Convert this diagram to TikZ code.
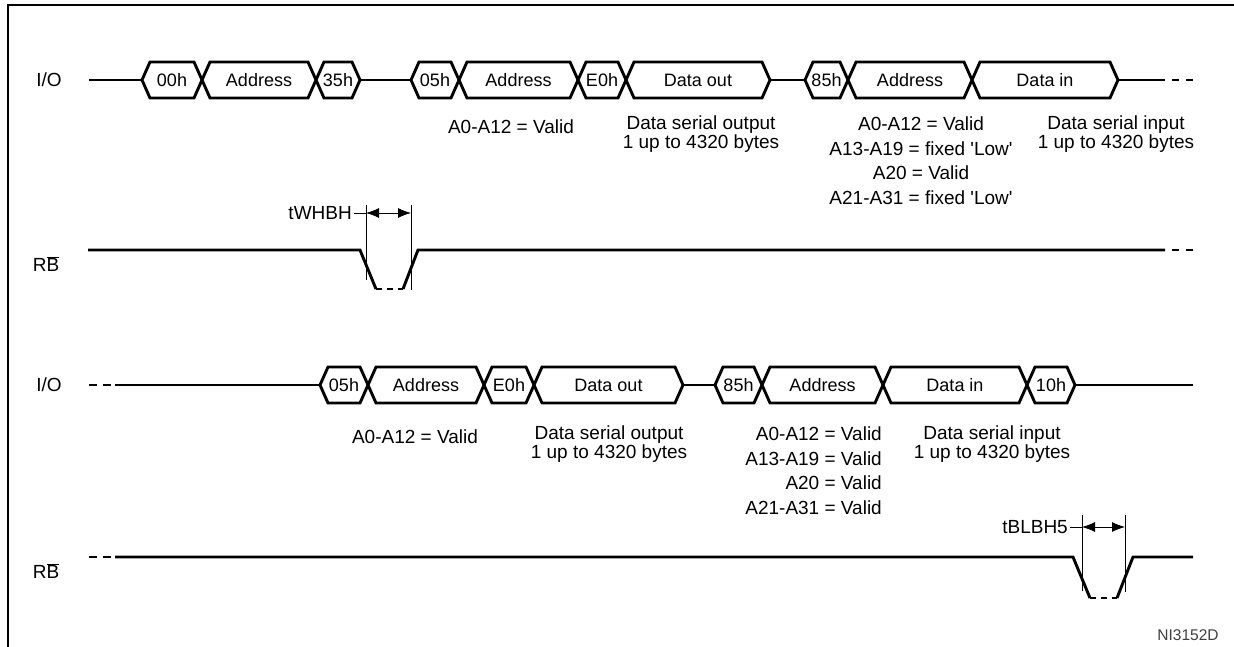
\documentclass[tikz,border=0pt]{standalone}
\usepackage{fontspec}
\setmainfont{Liberation Sans}
\usetikzlibrary{arrows.meta}

\begin{document}
\begin{tikzpicture}[x=1pt,y=-1pt,>={Latex[length=13pt,width=10pt]},
  wave/.style={line width=2.9pt,line join=miter},
  dimline/.style={line width=0.8pt},
  buslbl/.style={font=\fontsize{18}{20}\selectfont,inner sep=0pt,text height=13pt,text depth=0pt},
  note/.style={font=\fontsize{19}{13.5}\selectfont,align=center,inner sep=0pt},
  notelist/.style={font=\fontsize{19}{24.5}\selectfont,inner sep=0pt},
  signame/.style={font=\fontsize{19}{20}\selectfont,inner sep=0pt}]
  \useasboundingbox (0,0) rectangle (1234,647);

  % frame
  \draw[line width=2.8pt] (8,647) -- (8,5) -- (1234,5);

  % first I/O row
  \node[signame] (io1) at (49,80) {I/O};
  \draw[wave] (89,80) -- (142,80);
  \draw[wave] (360,80) -- (411,80);
  \draw[wave] (770,80) -- (805,80);
  \draw[wave] (1118,80) -- (1165,80);
  \draw[wave,dash pattern=on 7pt off 7pt] (1172,80) -- (1193,80);
  \foreach \xa/\xb/\txt [count=\i] in {142/202/00h, 202/316/Address, 316/360/35h,
      411/459/05h, 459/578/Address, 578/626/E0h, 626/770/Data out,
      805/848/85h, 848/972/Address, 972/1118/Data in}
  {
    \draw[wave] (\xa,80) -- (\xa+8,62) -- (\xb-8,62) -- (\xb,80) -- (\xb-8,98) -- (\xa+8,98) -- cycle;
    \node[buslbl] (ba\i) at ({(\xa+\xb)/2},80) {\txt};
  }
  \node[note] (na1) at (511,127) {A0-A12 = Valid};
  \node[note] (na2) at (701,134) {Data serial output\\1 up to 4320 bytes};
  \node[notelist,align=center,anchor=north] (na3) at (921,117)
    {A0-A12 = Valid\\A13-A19 = fixed \textquotesingle Low\textquotesingle\\A20 = Valid\\A21-A31 = fixed \textquotesingle Low\textquotesingle};
  \node[note] (na4) at (1116,134) {Data serial input\\1 up to 4320 bytes};

  % first RB row
  \node[signame] (rb1) at (46,264) {R$\overline{\mbox{B}}$};
  \draw[wave] (88,250) -- (360,250) -- (376,289);
  \draw[wave,dash pattern=on 6pt off 5pt] (376,289) -- (403,289);
  \draw[wave] (403,289) -- (418,250) -- (1165,250);
  \draw[wave,dash pattern=on 7pt off 7pt] (1172,250) -- (1193,250);
  \draw[dimline] (366,205) -- (366,280);
  \draw[dimline] (411,205) -- (411,290);
  \draw[dimline,<->] (366,213) -- (411,213);
  \node[signame,anchor=east] (twhbh) at (352,213) {tWHBH};
  \draw[dimline] (twhbh.east) ++(2,0) -- (366,213);

  % second I/O row
  \node[signame] (io2) at (49,385) {I/O};
  \draw[wave,dash pattern=on 8pt off 6pt] (89,385) -- (111,385);
  \draw[wave] (115,385) -- (320,385);
  \draw[wave] (683,385) -- (715,385);
  \draw[wave] (1075,385) -- (1193,385);
  \foreach \xa/\xb/\txt [count=\i] in {320/368/05h, 368/484/Address, 484/534/E0h,
      534/683/Data out, 715/762/85h, 762/883/Address, 883/1027/Data in, 1027/1075/10h}
  {
    \draw[wave] (\xa,385) -- (\xa+8,367) -- (\xb-8,367) -- (\xb,385) -- (\xb-8,403) -- (\xa+8,403) -- cycle;
    \node[buslbl] (bb\i) at ({(\xa+\xb)/2},385) {\txt};
  }
  \node[note] (nb1) at (415,437) {A0-A12 = Valid};
  \node[note] (nb2) at (609,444) {Data serial output\\1 up to 4320 bytes};
  \node[notelist,align=right,anchor=north east] (nb3) at (882,427)
    {A0-A12 = Valid\\A13-A19 = Valid\\A20 = Valid\\A21-A31 = Valid};
  \node[note] (nb4) at (992,444) {Data serial input\\1 up to 4320 bytes};

  % second RB row
  \node[signame] (rb2) at (46,571) {R$\overline{\mbox{B}}$};
  \draw[wave,dash pattern=on 8pt off 6pt] (89,557) -- (111,557);
  \draw[wave] (115,557) -- (1073,557) -- (1090,598);
  \draw[wave,dash pattern=on 6pt off 5pt] (1090,598) -- (1117,598);
  \draw[wave] (1117,598) -- (1133,557) -- (1193,557);
  \draw[dimline] (1082,515) -- (1082,591);
  \draw[dimline] (1125,515) -- (1125,592);
  \draw[dimline,<->] (1082,527) -- (1125,527);
  \node[signame,anchor=east] (tblbh) at (1068,527) {tBLBH5};
  \draw[dimline] (tblbh.east) ++(2,0) -- (1082,527);

  \node[font=\fontsize{15.5}{17}\selectfont,text=black!75,inner sep=0pt] (fig) at (1188,635) {NI3152D};
\end{tikzpicture}
\end{document}
